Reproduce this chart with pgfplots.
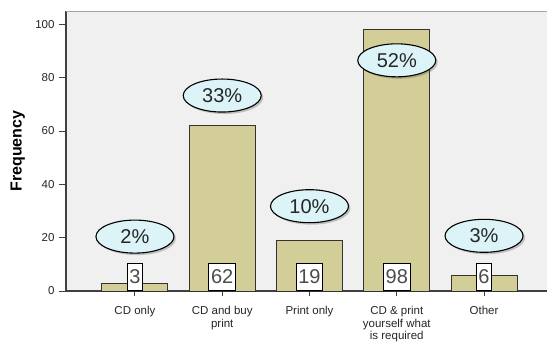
\documentclass[border=0pt]{standalone}
\usepackage{pgfplots}
\pgfplotsset{compat=1.18}
\usepackage{pgfplotstable}
\usepackage{fontspec}
\setmainfont{Liberation Sans}
\usetikzlibrary{shapes.geometric,shadows}

\definecolor{barfill}{HTML}{D3CD98}
\definecolor{panel}{HTML}{F0F0F0}
\definecolor{bubble}{HTML}{DCF4F7}
\definecolor{axisdark}{HTML}{404040}

% x: category index, count: frequency, pct: share of 188 responses,
% laby: height at which the percentage bubble sits
\pgfplotstableread{
x count pct laby
0 3   2  20.4
1 62  33 73.3
2 19  10 31.8
3 98  52 86.5
4 6   3  20.7
}\responses

\begin{document}
\begin{tikzpicture}
\begin{axis}[
  at={(66pt,50pt)}, anchor=south west,
  scale only axis, width=487pt, height=280pt,
  xmin=-0.79, xmax=4.79, ymin=0, ymax=105,
  axis x line=bottom, axis y line=left,
  axis line style={-, draw=axisdark, line width=1.1pt},
  axis background/.style={fill=panel},
  tick align=outside, major tick length=7pt,
  ytick={0,20,40,60,80,100},
  xtick={0,1,2,3,4},
  xticklabels={CD only,{CD and buy\\print},Print only,{CD \& print\\yourself what\\is required},Other},
  xticklabel style={align=center, font=\fontsize{11.5}{12.3}\selectfont, text=black!85, yshift=-5pt},
  yticklabel style={font=\fontsize{11.5}{12}\selectfont, text=black!85, xshift=-1pt},
  ytick style={draw=axisdark, line width=1pt},
  xtick style={draw=axisdark, line width=1pt, dash pattern=on 0pt off 2pt on 5pt},
  /pgf/number format/assume math mode=true,
  ylabel={Frequency},
  every axis y label/.style={at={(axis description cs:-0.099,0.5)}, rotate=90, anchor=center,
    font=\bfseries\fontsize{16}{16}\selectfont},
  clip=false,
]
  \draw[gray!70, line width=0.8pt] (rel axis cs:0,1) -- (rel axis cs:1,1);

  % frequency bars
  \addplot[ybar, bar shift=0pt, bar width=66pt, fill=barfill, draw=black!80, line width=0.9pt]
    table[x=x, y=count]{\responses};

  % count boxes standing on the baseline
  \addplot[draw=none, mark=none, nodes near coords, point meta=explicit,
    every node near coord/.append style={anchor=south, fill=white, draw=black, line width=0.9pt,
      minimum height=27pt, inner xsep=2.2pt, inner ysep=0pt, text=black!70,
      font=\fontsize{20}{20}\selectfont}]
    table[x=x, y expr=0, meta=count]{\responses};

  % percentage bubbles
  \addplot[draw=none, mark=none,
    nodes near coords={\pgfmathprintnumber{\pgfplotspointmeta}\%}, point meta=explicit,
    every node near coord/.append style={anchor=center, ellipse, draw=black, line width=1.1pt,
      fill=bubble, minimum width=78pt, minimum height=33pt, inner sep=0pt, text=black!85,
      font=\fontsize{20}{20}\selectfont,
      drop shadow={shadow xshift=2pt, shadow yshift=-2pt, opacity=0.35, fill=black!60}}]
    table[x=x, y=laby, meta=pct]{\responses};
\end{axis}
\pgfresetboundingbox
\path[use as bounding box] (0,0) rectangle (547pt,341pt);
\end{tikzpicture}
\end{document}
